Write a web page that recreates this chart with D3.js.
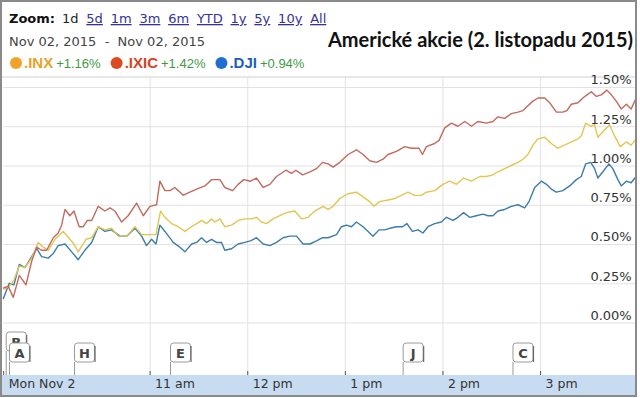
<!DOCTYPE html>
<html lang="cs">
<head>
  <meta charset="UTF-8">
  <title>Americké akcie</title>
  <style>
    body { margin: 0; background: #fff; }
    svg { display: block; }
    .lnk { fill: #33339a; text-decoration: underline; }
    .grid line { stroke: #e2e2e2; }
    .grid path { display: none; }
  </style>
</head>
<body>
  <svg width="640" height="398"></svg>
  <script src="https://cdn.jsdelivr.net/npm/d3@7"></script>
  <script>
    // minutes after 9:30 open, % change
    var inx = [[0,0.21],[3.7,0.23],[6.6,0.27],[9.9,0.36],[13.4,0.35],[17.5,0.41],[21.6,0.51],[24.6,0.48],[27.7,0.46],[31.8,0.53],[36.9,0.58],[41,0.53],[43.5,0.50],[46.1,0.45],[50.9,0.53],[54.4,0.54],[58.4,0.61],[62.5,0.59],[66.6,0.60],[70.7,0.55],[75.9,0.55],[81,0.61],[85.1,0.56],[88.1,0.56],[93.9,0.56],[96.7,0.71],[99.4,0.67],[103.5,0.63],[107.6,0.61],[111.7,0.58],[115.8,0.61],[118.9,0.63],[121.9,0.65],[125,0.63],[128.1,0.66],[130.1,0.64],[133.2,0.66],[136.2,0.61],[140.4,0.62],[144.4,0.65],[148.5,0.66],[152.6,0.66],[155.7,0.67],[158.8,0.64],[161.9,0.63],[165.9,0.66],[170,0.68],[174.1,0.70],[179.2,0.71],[183.4,0.66],[187.4,0.67],[191.5,0.71],[196.6,0.74],[199.7,0.72],[202.8,0.74],[206.9,0.79],[212,0.82],[217.1,0.83],[221.2,0.80],[225.3,0.77],[227.8,0.74],[231.4,0.77],[236.5,0.78],[240.7,0.79],[244.8,0.81],[248.8,0.83],[252.9,0.81],[257.1,0.81],[260.1,0.83],[265.2,0.84],[270.3,0.88],[274.4,0.90],[278.6,0.88],[283,0.92],[287.8,0.90],[292.9,0.93],[297,0.93],[301,0.94],[304.1,0.96],[308.2,0.98],[312.3,1.00],[316.4,1.02],[319.5,1.04],[322.5,1.07],[325.6,1.13],[328.7,1.17],[332.8,1.18],[336.9,1.14],[340.9,1.11],[345,1.13],[349.2,1.15],[353.3,1.17],[355.4,1.19],[358,1.27],[361.1,1.25],[363.5,1.26],[365.5,1.18],[369,1.22],[372.7,1.26],[375.7,1.19],[379.3,1.12],[383,1.15],[386,1.13],[389,1.17]]

    var ixic = [[0,0.22],[3.1,0.23],[6.2,0.16],[9.9,0.30],[14,0.24],[17.5,0.39],[20.6,0.48],[23.6,0.46],[26.7,0.46],[30.8,0.54],[33.8,0.57],[35.9,0.62],[38,0.72],[41,0.68],[43.5,0.71],[46.7,0.61],[49.2,0.61],[51.7,0.65],[54.4,0.65],[58.4,0.74],[62.5,0.71],[65.6,0.73],[68.7,0.71],[72.8,0.64],[76.8,0.68],[82,0.76],[86.1,0.68],[90.2,0.74],[94.3,0.75],[96.3,0.90],[99.4,0.84],[102.5,0.84],[105.5,0.86],[107.6,0.84],[110.6,0.81],[114.7,0.83],[118.9,0.85],[124,0.87],[128.1,0.91],[133.2,0.91],[136.2,0.86],[141,0.84],[144.4,0.88],[147.9,0.91],[152,0.90],[155.7,0.92],[159.8,0.86],[163.9,0.88],[168,0.93],[173.7,0.97],[177.2,0.95],[179.9,0.97],[184,0.94],[188.5,0.96],[192.6,0.98],[196.3,1.02],[199.7,1.01],[202.8,0.99],[206.9,1.02],[212,1.07],[217.1,1.10],[221.2,1.07],[225.3,1.03],[229.4,1.02],[233.5,1.04],[236.5,1.07],[241.7,1.09],[246.8,1.12],[250.9,1.11],[255.6,1.11],[257.7,1.07],[260.1,1.12],[265.2,1.14],[267.9,1.16],[271.4,1.24],[275.5,1.27],[279.5,1.25],[283.7,1.28],[287.8,1.25],[291.8,1.28],[297,1.27],[301,1.28],[304.1,1.31],[308.2,1.30],[312.3,1.33],[316.4,1.34],[319.5,1.35],[322.5,1.38],[325.6,1.41],[328.7,1.43],[332.8,1.43],[335.9,1.40],[340,1.34],[344,1.34],[346.5,1.35],[349.2,1.39],[353.3,1.40],[356.3,1.43],[358.8,1.45],[361.5,1.47],[364.6,1.44],[367.6,1.45],[371.1,1.48],[373.8,1.45],[376.8,1.41],[379.9,1.36],[383,1.39],[386,1.36],[389,1.43]]

    var dji = [[0,0.15],[3.7,0.25],[6.6,0.24],[9.9,0.37],[13.4,0.35],[17.5,0.42],[20.6,0.47],[23.6,0.42],[27.7,0.41],[30.8,0.44],[33.8,0.49],[38,0.50],[42.1,0.45],[46.1,0.40],[50.2,0.46],[54.4,0.51],[58.4,0.61],[62.5,0.58],[66.6,0.59],[71.7,0.55],[75.9,0.55],[81,0.60],[85.1,0.55],[88.1,0.49],[91.2,0.53],[93.9,0.50],[96.3,0.62],[99.4,0.58],[104.5,0.51],[108.6,0.48],[111.7,0.45],[115.8,0.50],[118.9,0.51],[121.9,0.54],[125,0.51],[128.1,0.53],[131.1,0.51],[134.2,0.51],[136.2,0.46],[140.4,0.47],[144.4,0.50],[148.5,0.51],[152,0.52],[155.7,0.54],[159.8,0.50],[163.9,0.49],[168,0.51],[172,0.54],[176.2,0.55],[180.3,0.55],[184.3,0.50],[188.5,0.50],[192.6,0.52],[196.3,0.54],[199.7,0.54],[204.9,0.56],[207.9,0.61],[211,0.62],[214.1,0.61],[217.1,0.64],[221.2,0.61],[224.3,0.58],[227.3,0.55],[231,0.59],[234.5,0.59],[237.6,0.60],[241.7,0.61],[245.4,0.61],[248.2,0.63],[251.5,0.58],[255,0.59],[258,0.57],[261.1,0.61],[265.2,0.63],[269.3,0.64],[272.4,0.67],[276.5,0.65],[279.5,0.67],[283,0.70],[286.7,0.67],[290.8,0.68],[294.9,0.69],[298,0.68],[301,0.68],[304.1,0.71],[308.2,0.72],[312.3,0.74],[316.4,0.75],[318.5,0.74],[320.5,0.73],[323.2,0.77],[326.7,0.86],[330.8,0.90],[333.9,0.88],[336.9,0.85],[340,0.83],[344,0.84],[348.2,0.87],[352.3,0.91],[355.3,0.93],[358,1.01],[361.1,1.02],[363.5,0.98],[365.5,0.92],[368.6,0.96],[372.3,1.01],[374.7,0.98],[377.8,0.91],[379.9,0.87],[383,0.90],[386,0.89],[389,0.93]]

    var seriesNames = ['.INX', '.IXIC', '.DJI']
    var seriesChange = ['+1.16%', '+1.42%', '+0.94%']
    var pctTicks = [0, 0.25, 0.5, 0.75, 1.0, 1.25, 1.5]
    var timeTicks = [0, 90, 150, 210, 270, 330]
    var timeLabels = ['Mon Nov 2', '11 am', '12 pm', '1 pm', '2 pm', '3 pm']
    var zoomLabels = ['1d', '5d', '1m', '3m', '6m', 'YTD', '1y', '5y', '10y', 'All']
    var flagLetters = ['B', 'A', 'H', 'E', 'J', 'C']
    var flagTimes = [0, 2, 42, 101, 244, 311.5]
    var flagLevel = [1, 0, 0, 0, 0, 0]

    var dotColors = ['#f2a12a', '#dd4a22', '#1f6fd3']
    var nameColors = ['#eba127', '#d8431f', '#1c5fb8']
    var lineColors = ['#e3c552', '#c36a5e', '#3b7daa']

    var svg = d3.select('svg')
    var x = d3.scaleLinear().domain([0, 390]).range([3.2, 637.7])
    var y = d3.scaleLinear().domain([0, 1.5]).range([322.5, 87])

    svg.append('defs').append('clipPath').attr('id', 'plot')
      .append('rect').attr('x', 2).attr('y', 78).attr('width', 634).attr('height', 250)

    // header separator
    svg.append('line').attr('x1', 2).attr('x2', 636).attr('y1', 77).attr('y2', 77)
      .attr('stroke', '#cfcfcf')

    // vertical grid
    svg.append('g').attr('class', 'grid')
      .attr('transform', 'translate(0,375)')
      .call(d3.axisTop(x).tickValues(timeTicks.slice(1)).tickSize(298).tickFormat(''))
      .selectAll('line').attr('stroke', '#ececec')

    // horizontal grid + right labels
    var yAxis = svg.append('g').attr('class', 'grid')
      .attr('transform', 'translate(3.2,0)')
      .call(d3.axisRight(y).tickValues(pctTicks).tickSize(633)
        .tickFormat(function(d) { return d3.format('.2f')(d) + '%' }))
    yAxis.selectAll('line').attr('stroke', function(d) { return d === 0 ? '#8c8c8c' : '#e0e0e0' })
    yAxis.selectAll('text')
      .attr('x', 628.5).attr('dy', '-0.25em')
      .attr('text-anchor', 'end')
      .attr('fill', '#333')
      .style('font', '13px "DejaVu Sans", sans-serif')

    // series lines
    var line = d3.line()
      .x(function(d) { return x(d[0]) })
      .y(function(d) { return y(d[1]) })
    var plotG = svg.append('g').attr('clip-path', 'url(#plot)')
    ;[[dji, 2], [inx, 0], [ixic, 1]].forEach(function(s) {
      plotG.append('path')
        .datum(s[0])
        .attr('fill', 'none')
        .attr('stroke', lineColors[s[1]])
        .attr('stroke-width', 1.4)
        .attr('stroke-linejoin', 'round')
        .attr('d', line)
    })

    // flags
    var flags = svg.append('g')
    flagLetters.forEach(function(letter, i) {
      var fx = x(flagTimes[i]) + 3
      var fy = 343 - flagLevel[i] * 11
      flags.append('line')
        .attr('x1', fx).attr('x2', fx).attr('y1', fy + 19).attr('y2', 375)
        .attr('stroke', '#999')
      flags.append('rect')
        .attr('x', fx).attr('y', fy).attr('width', 20).attr('height', 19).attr('rx', 3)
        .attr('fill', '#fff').attr('stroke', '#9a9a9a')
      flags.append('line')
        .attr('x1', fx + 20.5).attr('x2', fx + 20.5).attr('y1', fy + 3).attr('y2', fy + 19)
        .attr('stroke', '#666').attr('stroke-width', 1.2)
      flags.append('text')
        .attr('x', fx + 10).attr('y', fy + 14.5)
        .attr('text-anchor', 'middle')
        .attr('fill', '#444')
        .style('font', 'bold 13px "DejaVu Sans", sans-serif')
        .text(letter)
    })

    // time axis bar
    svg.append('rect').attr('x', 2).attr('y', 375).attr('width', 634).attr('height', 21)
      .attr('fill', '#c7dcf1')
    var xAxis = svg.append('g')
      .attr('transform', 'translate(0,375)')
      .call(d3.axisBottom(x).tickValues(timeTicks).tickSize(-4)
        .tickFormat(function(d, i) { return timeLabels[i] }))
    xAxis.select('.domain').remove()
    xAxis.selectAll('line').attr('stroke', '#555')
    xAxis.selectAll('text')
      .attr('x', 5).attr('y', 4)
      .attr('text-anchor', 'start')
      .attr('fill', '#333')
      .style('font', '12.5px "DejaVu Sans", sans-serif')

    // zoom links
    svg.append('text').attr('x', 9).attr('y', 23)
      .attr('fill', '#111')
      .style('font', 'bold 13px "DejaVu Sans", sans-serif')
      .text('Zoom:')
    var zx = 62
    zoomLabels.forEach(function(l, i) {
      var t = svg.append('text').attr('x', zx).attr('y', 23)
        .attr('class', i === 0 ? null : 'lnk')
        .attr('fill', i === 0 ? '#222' : null)
        .style('font-family', '"DejaVu Sans", sans-serif')
        .style('font-size', '13px')
        .text(l)
      zx += t.node().getComputedTextLength() + 7.8
    })

    svg.append('text').attr('x', 9).attr('y', 46)
      .attr('fill', '#444')
      .style('font', '13px "DejaVu Sans", sans-serif')
      .style('white-space', 'pre')
      .text('Nov 02, 2015  -  Nov 02, 2015')

    // legend
    var lx = 10
    seriesNames.forEach(function(n, i) {
      svg.append('circle').attr('cx', lx + 6).attr('cy', 63).attr('r', 6)
        .attr('fill', dotColors[i])
      var t1 = svg.append('text').attr('x', lx + 14).attr('y', 68)
        .attr('fill', nameColors[i])
        .style('font', 'bold 15px "Liberation Sans", Arial, sans-serif')
        .text(n)
      var w1 = t1.node().getComputedTextLength()
      var t2 = svg.append('text').attr('x', lx + 17 + w1).attr('y', 68)
        .attr('fill', '#3f9a3f')
        .style('font', '13px "Liberation Sans", Arial, sans-serif')
        .text(seriesChange[i])
      lx = lx + 17 + w1 + t2.node().getComputedTextLength() + 10
    })

    // title
    svg.append('text').attr('x', 633).attr('y', 47)
      .attr('text-anchor', 'end')
      .attr('fill', '#111')
      .style('font', 'bold 20px Lato, "Liberation Sans", sans-serif')
      .text('Americké akcie (2. listopadu 2015)')

    // frame
    svg.append('rect').attr('x', 1).attr('y', 1).attr('width', 635).attr('height', 395)
      .attr('fill', 'none').attr('stroke', '#8a8a8a').attr('stroke-width', 2)
  </script>
</body>
</html>
